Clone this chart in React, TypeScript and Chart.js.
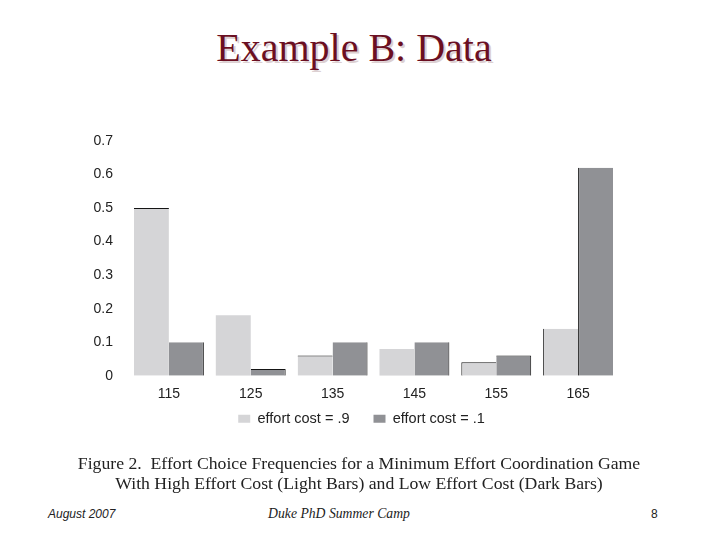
import React, { useEffect, useRef } from "react";
import { Chart, registerables } from "chart.js";

Chart.register(...registerables);

const categories = ["115", "125", "135", "145", "155", "165"];
const highCostLabel = "effort cost = .9";
const lowCostLabel = "effort cost = .1";
const highCost = [0.5, 0.18, 0.06, 0.08, 0.04, 0.14];
const lowCost = [0.1, 0.02, 0.1, 0.1, 0.06, 0.62];
const yMax = 0.7;
const yStep = 0.1;

const LIGHT = "#d5d5d7";
const DARK = "#909195";
const EDGE = "#151515";
const TEXT = "#222222";
const SANS = "'Liberation Sans', Arial, sans-serif";
const SERIF = "'Liberation Serif', 'Times New Roman', serif";

// thin dark scan edges visible on some bars of the original figure
const lightEdges = [{ top: 1 }, 0, { top: 1 }, 0, { top: 1, left: 1 }, { left: 1 }];
const darkEdges = [{ right: 1 }, { top: 1, right: 1 }, { right: 1 }, { right: 1 }, { top: 1, right: 1 }, { left: 1 }];

// nudge the legend box: a little right and up, closer to the axis labels
const legendShift = {
  id: "legendShift",
  afterLayout(chart: any) {
    const l = chart.legend;
    if (l) {
      l.left += 12;
      l.right += 12;
      l.top -= 25;
      l.bottom -= 25;
    }
  },
};

export default function App() {
  const ref = useRef<HTMLCanvasElement>(null);

  useEffect(() => {
    const canvas = ref.current;
    if (!canvas) return;
    const chart = new Chart(canvas, {
      type: "bar",
      data: {
        labels: categories,
        datasets: [
          {
            label: highCostLabel,
            data: highCost,
            backgroundColor: LIGHT,
            borderColor: EDGE,
            borderWidth: (ctx: any) => (ctx.dataIndex === undefined ? 0 : lightEdges[ctx.dataIndex]),
            categoryPercentage: 0.854,
            barPercentage: 1,
          },
          {
            label: lowCostLabel,
            data: lowCost,
            backgroundColor: DARK,
            borderColor: EDGE,
            borderWidth: (ctx: any) => (ctx.dataIndex === undefined ? 0 : darkEdges[ctx.dataIndex]),
            categoryPercentage: 0.854,
            barPercentage: 1,
          },
        ],
      },
      plugins: [legendShift],
      options: {
        responsive: false,
        animation: false,
        devicePixelRatio: 1,
        layout: { padding: { left: 80, right: 101, top: 141, bottom: 10 } },
        scales: {
          x: {
            grid: { display: false, drawTicks: false },
            border: { display: false },
            ticks: { color: TEXT, font: { family: SANS, size: 14 }, padding: 10 },
          },
          y: {
            min: 0,
            max: yMax,
            grid: { display: false, drawTicks: false },
            border: { display: false },
            afterFit: (s: any) => {
              s.width = 48;
            },
            ticks: {
              stepSize: yStep,
              padding: 15,
              color: TEXT,
              font: { family: SANS, size: 14 },
              callback: (v: any) => (Number(v) === 0 ? "0" : Number(v).toFixed(1)),
            },
          },
        },
        plugins: {
          tooltip: { enabled: false },
          legend: {
            position: "bottom",
            labels: {
              boxWidth: 12,
              boxHeight: 8,
              padding: 24,
              color: TEXT,
              font: { family: SANS, size: 14.5 },
              generateLabels: (c: any) =>
                (Chart.defaults.plugins.legend.labels.generateLabels as any)(c).map((l: any) => ({
                  ...l,
                  lineWidth: 0,
                  strokeStyle: "rgba(0,0,0,0)",
                })),
            },
          },
        },
      },
    });
    return () => chart.destroy();
  }, []);

  return (
    <div
      style={{
        position: "fixed",
        left: 0,
        top: 0,
        width: 720,
        height: 540,
        background: "#ffffff",
        overflow: "hidden",
      }}
    >
      <div
        style={{
          position: "absolute",
          left: 0,
          top: 27,
          width: 708,
          textAlign: "center",
          fontFamily: SERIF,
          fontSize: 40,
          lineHeight: "42px",
          color: "#6b0f22",
          textShadow: "2px 2px 0 #dcd0d2",
        }}
      >
        Example B: Data
      </div>
      <canvas
        ref={ref}
        width={720}
        height={471}
        style={{ position: "absolute", left: 0, top: 0, width: 720, height: 471 }}
      />
      <div
        style={{
          position: "absolute",
          left: 0,
          top: 453,
          width: 718,
          textAlign: "center",
          fontFamily: SERIF,
          fontSize: 17.7,
          lineHeight: "20px",
          color: TEXT,
        }}
      >
        <div>Figure 2.&nbsp; Effort Choice Frequencies for a Minimum Effort Coordination Game</div>
        <div>With High Effort Cost (Light Bars) and Low Effort Cost (Dark Bars)</div>
      </div>
      <div
        style={{
          position: "absolute",
          left: 48,
          top: 506,
          fontFamily: SANS,
          fontStyle: "italic",
          fontSize: 12,
          lineHeight: "16px",
          color: TEXT,
        }}
      >
        August 2007
      </div>
      <div
        style={{
          position: "absolute",
          left: 200,
          width: 278,
          top: 506,
          textAlign: "center",
          fontFamily: SERIF,
          fontStyle: "italic",
          fontSize: 13.7,
          lineHeight: "16px",
          color: TEXT,
        }}
      >
        Duke PhD Summer Camp
      </div>
      <div
        style={{
          position: "absolute",
          left: 651,
          top: 506,
          fontFamily: SANS,
          fontSize: 12,
          lineHeight: "16px",
          color: TEXT,
        }}
      >
        8
      </div>
    </div>
  );
}
